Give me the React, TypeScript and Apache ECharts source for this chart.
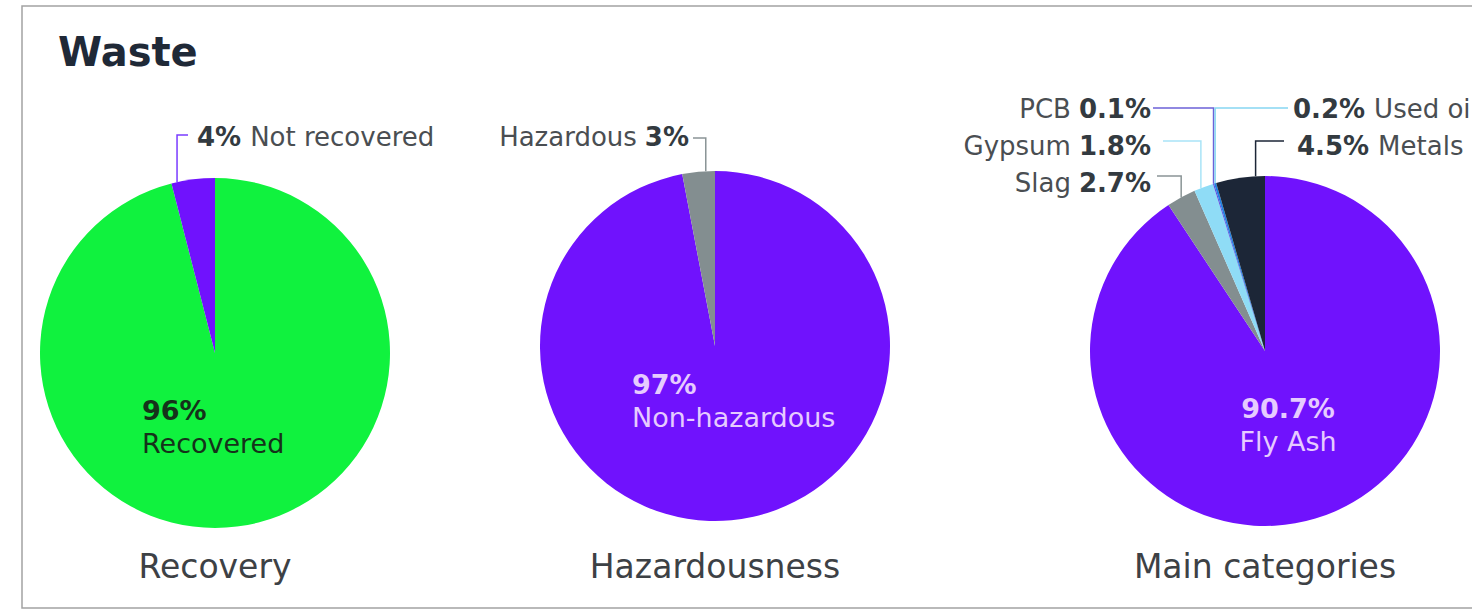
import React, { useEffect, useRef } from 'react';
import * as echarts from 'echarts';

// ---- data ----
const mainTitle = 'Waste';
const chartTitles = ['Recovery', 'Hazardousness', 'Main categories'];
const recoveryNames = ['Recovered', 'Not recovered'];
const recoveryValues = [96, 4];
const hazardNames = ['Non-hazardous', 'Hazardous'];
const hazardValues = [97, 3];
const categoryNames = ['Fly Ash', 'Slag', 'Gypsum', 'PCB', 'Used oil', 'Metals'];
const categoryValues = [90.7, 2.7, 1.8, 0.1, 0.2, 4.5];

// ---- styles / layout ----
const FONT = '"DejaVu Sans", sans-serif';
const R = 175;
const centers: number[][] = [[215, 353], [715, 346], [1265, 351]];
const sliceColors: string[][] = [
  ['#10f23e', '#7012fd'],
  ['#7012fd', '#838e90'],
  ['#7012fd', '#838e90', '#8fdcf6', '#5a4ae0', '#1f7fe0', '#1c2637'],
];
const lineColors: string[][] = [
  ['', '#7a3cff'],
  ['', '#8a9496'],
  ['', '#8a9496', '#a9e4f7', '#6c62d8', '#86d6f2', '#1c2637'],
];
const insideColors = ['#15321a', '#e6cbff', '#e6cbff'];

type Lbl = {
  inside?: boolean; x?: number; y?: number; align?: string;
  side?: 'left' | 'right'; textX?: number; textY?: number; lineY?: number; lineEndX?: number; frac?: number;
};
const layouts: Lbl[][] = [
  [
    { inside: true, x: 142, y: 427, align: 'left' },
    { side: 'right', textX: 197, textY: 137, lineY: 135, lineEndX: 188, frac: 0.13 },
  ],
  [
    { inside: true, x: 632, y: 401, align: 'left' },
    { side: 'left', textX: 689, textY: 137, lineY: 138, lineEndX: 693, frac: 0.72 },
  ],
  [
    { inside: true, x: 1288, y: 425, align: 'center' },
    { side: 'left', textX: 1151, textY: 183, lineY: 176, lineEndX: 1157, frac: 0.5 },
    { side: 'left', textX: 1151, textY: 146, lineY: 141, lineEndX: 1163, frac: 0.35 },
    { side: 'left', textX: 1151, textY: 109, lineY: 108, lineEndX: 1153, frac: 0.5 },
    { side: 'right', textX: 1293, textY: 109, lineY: 108, lineEndX: 1288, frac: 0.5 },
    { side: 'right', textX: 1297, textY: 146, lineY: 141, lineEndX: 1284, frac: 0.81 },
  ],
];

const seriesNames = [recoveryNames, hazardNames, categoryNames];
const seriesValues = [recoveryValues, hazardValues, categoryValues];

function anchorPoint(si: number, di: number, frac: number): number[] {
  const vals = seriesValues[si];
  const total = vals.reduce((a, b) => a + b, 0);
  let start = 0;
  for (let i = 0; i < di; i++) start += vals[i];
  const deg = ((start + vals[di] * frac) / total) * 360;
  const rad = (deg * Math.PI) / 180;
  const [cx, cy] = centers[si];
  return [cx + R * Math.sin(rad), cy - R * Math.cos(rad)];
}

function buildSeries(si: number) {
  const names = seriesNames[si];
  const vals = seriesValues[si];
  const data = names.map((n, di) => {
    const l = layouts[si][di];
    const item: any = { name: n, value: vals[di], itemStyle: { color: sliceColors[si][di] } };
    if (l.inside) {
      item.label = { position: 'inside' };
      item.labelLine = { show: false };
    } else {
      item.label = { position: 'outside' };
      item.labelLine = { show: true, lineStyle: { color: lineColors[si][di], width: 1.5 } };
    }
    return item;
  });
  return {
    type: 'pie',
    center: centers[si],
    radius: [0, R],
    startAngle: 90,
    clockwise: true,
    avoidLabelOverlap: false,
    itemStyle: { borderWidth: 0 },
    emphasis: { disabled: true },
    data,
    label: {
      show: true,
      fontFamily: FONT,
      formatter: (p: any) => {
        const l = layouts[si][p.dataIndex];
        const pct = `${p.value}%`;
        if (l.inside) return `{ib|${pct}}\n{in|${p.name}}`;
        if (l.side === 'right') return `{br|${pct}}{n|${p.name}}`;
        return `{nl|${p.name}}{b|${pct}}`;
      },
      rich: {
        ib: { fontFamily: FONT, fontSize: 27, fontWeight: 600, color: insideColors[si], lineHeight: 33 },
        in: { fontFamily: FONT, fontSize: 27, color: insideColors[si], lineHeight: 33 },
        b: { fontFamily: FONT, fontSize: 26, fontWeight: 600, color: '#333a40' },
        br: { fontFamily: FONT, fontSize: 26, fontWeight: 600, color: '#333a40', padding: [0, 9, 0, 0] },
        n: { fontFamily: FONT, fontSize: 26, color: '#4a4e52' },
        nl: { fontFamily: FONT, fontSize: 26, color: '#4a4e52', padding: [0, 8, 0, 0] },
      },
    },
    labelLine: { show: true, length: 10, length2: 10 },
    labelLayout: (p: any) => {
      const l = layouts[si][p.dataIndex];
      if (l.inside) return { x: l.x, y: l.y, align: l.align, verticalAlign: 'middle' };
      const a = anchorPoint(si, p.dataIndex, l.frac as number);
      return {
        x: l.textX,
        y: l.textY,
        align: l.side === 'right' ? 'left' : 'right',
        verticalAlign: 'middle',
        labelLinePoints: [a, [a[0], l.lineY], [l.lineEndX, l.lineY]],
      };
    },
  };
}

export default function App() {
  const ref = useRef<HTMLDivElement>(null);
  useEffect(() => {
    if (!ref.current) return;
    const chart = echarts.init(ref.current, null, { renderer: 'svg' });
    const graphic: any[] = [
      {
        type: 'rect',
        shape: { x: 22, y: 6, width: 1480, height: 602 },
        style: { fill: 'none', stroke: '#a2a2a2', lineWidth: 1.5 },
        silent: true,
      },
      {
        type: 'text',
        x: 58,
        y: 52,
        style: {
          text: mainTitle,
          font: `bold 40px ${FONT}`,
          fill: '#1f2937',
          align: 'left',
          verticalAlign: 'middle',
        },
      },
    ];
    chartTitles.forEach((t, i) => {
      graphic.push({
        type: 'text',
        x: centers[i][0],
        y: 566,
        style: { text: t, font: `33px ${FONT}`, fill: '#3d4145', align: 'center', verticalAlign: 'middle' },
      });
    });
    chart.setOption({
      animation: false,
      backgroundColor: '#ffffff',
      graphic,
      series: [buildSeries(0), buildSeries(1), buildSeries(2)],
    });
    return () => chart.dispose();
  }, []);
  return (
    <div
      ref={ref}
      style={{ position: 'fixed', left: 0, top: 0, width: 1472, height: 610, background: '#fff' }}
    />
  );
}
